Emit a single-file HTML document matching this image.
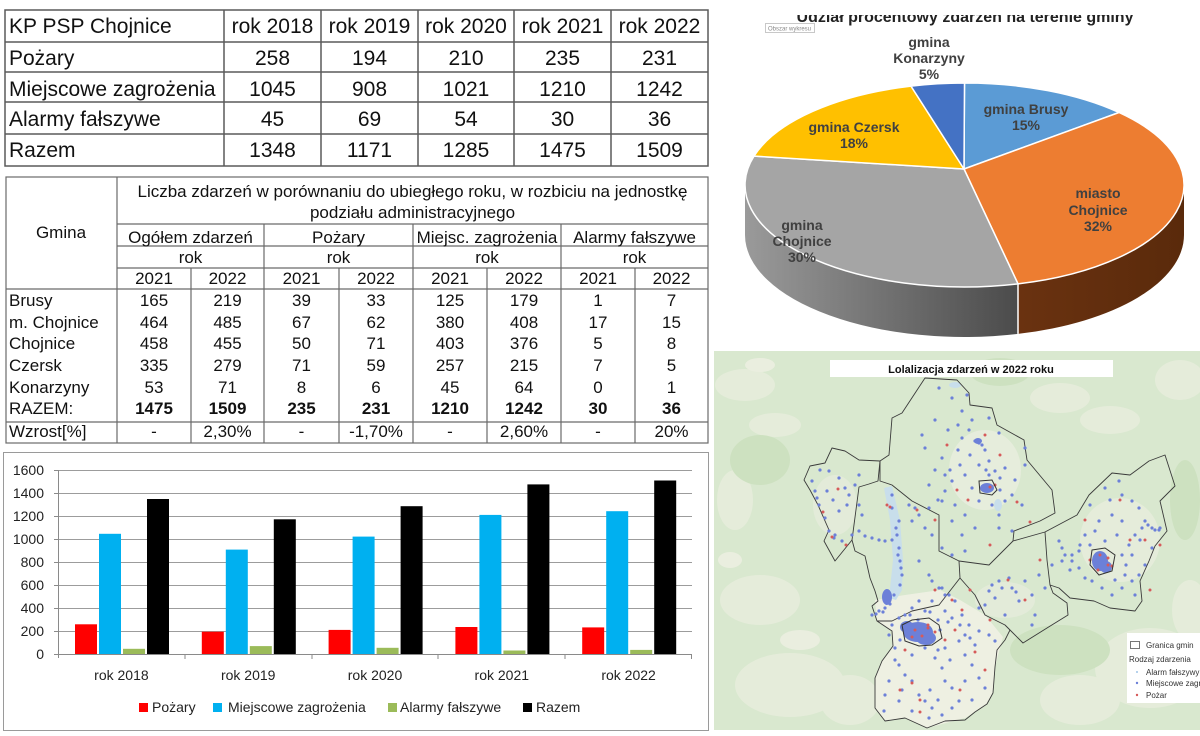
<!DOCTYPE html>
<html><head><meta charset="utf-8"><style>
html,body{margin:0;padding:0;background:#fff;}
svg{display:block;}
text{font-family:"Liberation Sans",Arial,sans-serif;}
</style></head><body>
<svg width="1200" height="736" viewBox="0 0 1200 736" xmlns="http://www.w3.org/2000/svg">
<defs>
<linearGradient id="gside" x1="745" y1="0" x2="1018" y2="0" gradientUnits="userSpaceOnUse">
<stop offset="0" stop-color="#9a9a9a"/><stop offset="1" stop-color="#4b4b4b"/></linearGradient>
<linearGradient id="bside" x1="1018" y1="0" x2="1184" y2="0" gradientUnits="userSpaceOnUse">
<stop offset="0" stop-color="#6a3210"/><stop offset="1" stop-color="#5a2a0b"/></linearGradient>
<clipPath id="mapclip"><rect x="714" y="351" width="486" height="379"/></clipPath>
</defs>
<rect width="1200" height="736" fill="#fff"/>

<!-- TABLE 1 -->
<g stroke="#5a5a5a" stroke-width="1.5" fill="none">
<rect x="5" y="10" width="703" height="156"/>
<line x1="5" y1="42" x2="708" y2="42"/><line x1="5" y1="72" x2="708" y2="72"/>
<line x1="5" y1="102" x2="708" y2="102"/><line x1="5" y1="134" x2="708" y2="134"/>
<line x1="224" y1="10" x2="224" y2="166"/><line x1="321" y1="10" x2="321" y2="166"/>
<line x1="418" y1="10" x2="418" y2="166"/><line x1="514" y1="10" x2="514" y2="166"/>
<line x1="611" y1="10" x2="611" y2="166"/>
</g>
<g font-size="21" fill="#111">
<text x="9" y="33">KP PSP Chojnice</text>
<text x="9" y="65">Pożary</text>
<text x="9" y="96">Miejscowe zagrożenia</text>
<text x="9" y="126">Alarmy fałszywe</text>
<text x="9" y="157">Razem</text>
<g text-anchor="middle">
<text x="272.5" y="33">rok 2018</text><text x="369.5" y="33">rok 2019</text><text x="466" y="33">rok 2020</text><text x="562.5" y="33">rok 2021</text><text x="659.5" y="33">rok 2022</text>
<text x="272.5" y="65">258</text><text x="369.5" y="65">194</text><text x="466" y="65">210</text><text x="562.5" y="65">235</text><text x="659.5" y="65">231</text>
<text x="272.5" y="96">1045</text><text x="369.5" y="96">908</text><text x="466" y="96">1021</text><text x="562.5" y="96">1210</text><text x="659.5" y="96">1242</text>
<text x="272.5" y="126">45</text><text x="369.5" y="126">69</text><text x="466" y="126">54</text><text x="562.5" y="126">30</text><text x="659.5" y="126">36</text>
<text x="272.5" y="157">1348</text><text x="369.5" y="157">1171</text><text x="466" y="157">1285</text><text x="562.5" y="157">1475</text><text x="659.5" y="157">1509</text>
</g></g>

<!-- TABLE 2 -->
<g stroke="#6a6a6a" stroke-width="1.2" fill="none">
<rect x="6" y="177" width="702" height="266"/>
<line x1="117" y1="177" x2="117" y2="443"/>
<line x1="117" y1="224" x2="708" y2="224"/>
<line x1="117" y1="246" x2="708" y2="246"/>
<line x1="117" y1="268" x2="708" y2="268"/>
<line x1="6" y1="289" x2="708" y2="289"/>
<line x1="6" y1="422" x2="708" y2="422"/>
<line x1="264" y1="224" x2="264" y2="443"/><line x1="413" y1="224" x2="413" y2="443"/><line x1="561" y1="224" x2="561" y2="443"/>
<line x1="191" y1="268" x2="191" y2="443"/><line x1="339" y1="268" x2="339" y2="443"/><line x1="487" y1="268" x2="487" y2="443"/><line x1="635" y1="268" x2="635" y2="443"/>
</g>
<g font-size="17" fill="#111">
<g text-anchor="middle">
<text x="412.5" y="197">Liczba zdarzeń w porównaniu do ubiegłego roku, w rozbiciu na jednostkę</text>
<text x="412.5" y="218">podziału administracyjnego</text>
<text x="61" y="238">Gmina</text>
<text x="190.5" y="243">Ogółem zdarzeń</text><text x="338.5" y="243">Pożary</text><text x="487" y="243">Miejsc. zagrożenia</text><text x="634.5" y="243">Alarmy fałszywe</text>
<text x="190.5" y="263">rok</text><text x="338.5" y="263">rok</text><text x="487" y="263">rok</text><text x="634.5" y="263">rok</text>
<text x="154" y="284">2021</text><text x="227.5" y="284">2022</text><text x="301.5" y="284">2021</text><text x="376" y="284">2022</text><text x="450" y="284">2021</text><text x="524" y="284">2022</text><text x="598" y="284">2021</text><text x="671.5" y="284">2022</text>
<text x="154" y="306">165</text><text x="227.5" y="306">219</text><text x="301.5" y="306">39</text><text x="376" y="306">33</text><text x="450" y="306">125</text><text x="524" y="306">179</text><text x="598" y="306">1</text><text x="671.5" y="306">7</text>
<text x="154" y="328">464</text><text x="227.5" y="328">485</text><text x="301.5" y="328">67</text><text x="376" y="328">62</text><text x="450" y="328">380</text><text x="524" y="328">408</text><text x="598" y="328">17</text><text x="671.5" y="328">15</text>
<text x="154" y="349">458</text><text x="227.5" y="349">455</text><text x="301.5" y="349">50</text><text x="376" y="349">71</text><text x="450" y="349">403</text><text x="524" y="349">376</text><text x="598" y="349">5</text><text x="671.5" y="349">8</text>
<text x="154" y="371">335</text><text x="227.5" y="371">279</text><text x="301.5" y="371">71</text><text x="376" y="371">59</text><text x="450" y="371">257</text><text x="524" y="371">215</text><text x="598" y="371">7</text><text x="671.5" y="371">5</text>
<text x="154" y="393">53</text><text x="227.5" y="393">71</text><text x="301.5" y="393">8</text><text x="376" y="393">6</text><text x="450" y="393">45</text><text x="524" y="393">64</text><text x="598" y="393">0</text><text x="671.5" y="393">1</text>
<g font-weight="bold">
<text x="154" y="414">1475</text><text x="227.5" y="414">1509</text><text x="301.5" y="414">235</text><text x="376" y="414">231</text><text x="450" y="414">1210</text><text x="524" y="414">1242</text><text x="598" y="414">30</text><text x="671.5" y="414">36</text>
</g>
<text x="154" y="437">-</text><text x="227.5" y="437">2,30%</text><text x="301.5" y="437">-</text><text x="376" y="437">-1,70%</text><text x="450" y="437">-</text><text x="524" y="437">2,60%</text><text x="598" y="437">-</text><text x="671.5" y="437">20%</text>
</g>
<text x="9" y="306">Brusy</text>
<text x="9" y="328">m. Chojnice</text>
<text x="9" y="349">Chojnice</text>
<text x="9" y="371">Czersk</text>
<text x="9" y="393">Konarzyny</text>
<text x="9" y="414">RAZEM:</text>
<text x="9" y="437">Wzrost[%]</text>
</g>

<!-- BAR CHART -->
<rect x="3.5" y="452.5" width="705" height="278" fill="#fff" stroke="#9a9a9a" stroke-width="1"/>
<g stroke="#9c9c9c" stroke-width="1">
<line x1="58" y1="470.5" x2="692" y2="470.5"/><line x1="58" y1="493.5" x2="692" y2="493.5"/>
<line x1="58" y1="516.5" x2="692" y2="516.5"/><line x1="58" y1="539.5" x2="692" y2="539.5"/>
<line x1="58" y1="562.5" x2="692" y2="562.5"/><line x1="58" y1="585.5" x2="692" y2="585.5"/>
<line x1="58" y1="608.5" x2="692" y2="608.5"/><line x1="58" y1="631.5" x2="692" y2="631.5"/>
</g>
<g>
<rect x="75" y="624.3" width="22" height="29.7" fill="#ff0000"/><rect x="99" y="533.8" width="22" height="120.2" fill="#00b0f0"/><rect x="123" y="648.8" width="22" height="5.2" fill="#9bbb59"/><rect x="147" y="499" width="22" height="155" fill="#000"/>
<rect x="201.8" y="631.7" width="22" height="22.3" fill="#ff0000"/><rect x="225.8" y="549.6" width="22" height="104.4" fill="#00b0f0"/><rect x="249.8" y="646.1" width="22" height="7.9" fill="#9bbb59"/><rect x="273.8" y="519.3" width="22" height="134.7" fill="#000"/>
<rect x="328.6" y="629.9" width="22" height="24.1" fill="#ff0000"/><rect x="352.6" y="536.6" width="22" height="117.4" fill="#00b0f0"/><rect x="376.6" y="647.8" width="22" height="6.2" fill="#9bbb59"/><rect x="400.6" y="506.2" width="22" height="147.8" fill="#000"/>
<rect x="455.4" y="627" width="22" height="27" fill="#ff0000"/><rect x="479.4" y="514.9" width="22" height="139.1" fill="#00b0f0"/><rect x="503.4" y="650.5" width="22" height="3.5" fill="#9bbb59"/><rect x="527.4" y="484.4" width="22" height="169.6" fill="#000"/>
<rect x="582.2" y="627.4" width="22" height="26.6" fill="#ff0000"/><rect x="606.2" y="511.2" width="22" height="142.8" fill="#00b0f0"/><rect x="630.2" y="649.9" width="22" height="4.1" fill="#9bbb59"/><rect x="654.2" y="480.5" width="22" height="173.5" fill="#000"/>
</g>
<g stroke="#8a8a8a" stroke-width="1">
<line x1="58" y1="654.5" x2="692" y2="654.5"/>
<line x1="58.5" y1="470" x2="58.5" y2="658"/>
<line x1="185" y1="654" x2="185" y2="659"/><line x1="312" y1="654" x2="312" y2="659"/><line x1="438" y1="654" x2="438" y2="659"/><line x1="565" y1="654" x2="565" y2="659"/><line x1="691.5" y1="654" x2="691.5" y2="659"/>
<line x1="54" y1="470.5" x2="58" y2="470.5"/><line x1="54" y1="493.5" x2="58" y2="493.5"/><line x1="54" y1="516.5" x2="58" y2="516.5"/><line x1="54" y1="539.5" x2="58" y2="539.5"/><line x1="54" y1="562.5" x2="58" y2="562.5"/><line x1="54" y1="585.5" x2="58" y2="585.5"/><line x1="54" y1="608.5" x2="58" y2="608.5"/><line x1="54" y1="631.5" x2="58" y2="631.5"/><line x1="54" y1="654.5" x2="58" y2="654.5"/>
</g>
<g font-size="14" fill="#222" text-anchor="end">
<text x="44" y="475">1600</text><text x="44" y="498">1400</text><text x="44" y="521">1200</text><text x="44" y="544">1000</text><text x="44" y="567">800</text><text x="44" y="590">600</text><text x="44" y="613">400</text><text x="44" y="636">200</text><text x="44" y="659">0</text>
</g>
<g font-size="14" fill="#222" text-anchor="middle">
<text x="121.4" y="680">rok 2018</text><text x="248.2" y="680">rok 2019</text><text x="375" y="680">rok 2020</text><text x="501.8" y="680">rok 2021</text><text x="628.6" y="680">rok 2022</text>
</g>
<g font-size="14" fill="#222">
<rect x="139" y="703" width="9" height="9" fill="#ff0000"/><text x="152" y="712">Pożary</text>
<rect x="213" y="703" width="9" height="9" fill="#00b0f0"/><text x="228" y="712">Miejscowe zagrożenia</text>
<rect x="388" y="703" width="9" height="9" fill="#9bbb59"/><text x="400" y="712">Alarmy fałszywe</text>
<rect x="523" y="703" width="9" height="9" fill="#000"/><text x="536" y="712">Razem</text>
</g>

<!-- PIE CHART -->
<text x="965" y="22" font-size="16" font-weight="bold" fill="#222" text-anchor="middle">Udział procentowy zdarzeń na terenie gminy</text>
<rect x="712" y="0" width="488" height="15" fill="#fff"/>
<rect x="765.5" y="23.5" width="49" height="9" fill="#fff" stroke="#bbb" stroke-width="0.8"/>
<text x="768" y="30.5" font-size="6" fill="#888">Obszar wykresu</text>

<path d="M1184,185 A219.5,102 0 0 1 1018,283.9 L1018,333.9 A219.5,102 0 0 0 1184,235 Z" fill="url(#bside)"/>
<path d="M1018,283.9 A219.5,102 0 0 1 745,185 L745,235 A219.5,102 0 0 0 1018,333.9 Z" fill="url(#gside)"/>
<line x1="1018" y1="283.9" x2="1018" y2="333.9" stroke="#fff" stroke-width="1.5"/>
<g stroke="#fff" stroke-width="1.5" stroke-linejoin="round">
<path d="M964,169 L964.5,83 A219.5,102 0 0 1 1119,112.5 Z" fill="#5b9bd5"/>
<path d="M964,169 L1119,112.5 A219.5,102 0 0 1 1018,283.9 Z" fill="#ed7d31"/>
<path d="M964,169 L1018,283.9 A219.5,102 0 0 1 754,156.1 Z" fill="#a5a5a5"/>
<path d="M964,169 L754,156.1 A219.5,102 0 0 1 911,86.1 Z" fill="#ffc000"/>
<path d="M964,169 L911,86.1 A219.5,102 0 0 1 964.5,83 Z" fill="#4472c4"/>
</g>
<g font-size="14" font-weight="bold" fill="#404040" text-anchor="middle">
<text x="929" y="47">gmina</text><text x="929" y="63">Konarzyny</text><text x="929" y="79">5%</text>
<text x="1026" y="114">gmina Brusy</text><text x="1026" y="130">15%</text>
<text x="854" y="132">gmina Czersk</text><text x="854" y="148">18%</text>
<text x="1098" y="198">miasto</text><text x="1098" y="215">Chojnice</text><text x="1098" y="231">32%</text>
<text x="802" y="230">gmina</text><text x="802" y="246">Chojnice</text><text x="802" y="262">30%</text>
</g>

<!-- MAP -->
<g clip-path="url(#mapclip)">
<rect x="714" y="351" width="486" height="379" fill="#d9e8cf"/>
<g fill="#e5ecda">
<ellipse cx="745" cy="385" rx="30" ry="16"/><ellipse cx="775" cy="425" rx="26" ry="12"/>
<ellipse cx="760" cy="600" rx="40" ry="25"/><ellipse cx="790" cy="685" rx="55" ry="32"/>
<ellipse cx="850" cy="700" rx="30" ry="25"/><ellipse cx="1180" cy="380" rx="25" ry="20"/>
<ellipse cx="1060" cy="398" rx="30" ry="15"/><ellipse cx="1150" cy="668" rx="55" ry="40"/>
<ellipse cx="1080" cy="700" rx="40" ry="25"/><ellipse cx="1190" cy="610" rx="18" ry="30"/>
<ellipse cx="735" cy="500" rx="18" ry="30"/><ellipse cx="1110" cy="420" rx="30" ry="14"/>
</g>
<g fill="#eaeedf">
<ellipse cx="730" cy="560" rx="12" ry="8"/><ellipse cx="800" cy="640" rx="20" ry="10"/>
<ellipse cx="1170" cy="690" rx="20" ry="12"/><ellipse cx="760" cy="365" rx="15" ry="7"/>
</g>
<g fill="#cde1c0">
<ellipse cx="760" cy="460" rx="30" ry="25"/><ellipse cx="1060" cy="650" rx="50" ry="25"/>
<ellipse cx="1185" cy="500" rx="15" ry="40"/><ellipse cx="1000" cy="372" rx="30" ry="14"/>
</g>
<polygon points="875,600 905,595 940,590 960,600 985,615 1003,637 995,667 993,693 985,706 965,718 927,728 905,718 885,721 875,708 875,678 882,661 893,646 892,631 877,621" fill="#eef0e2"/>
<ellipse cx="985" cy="470" rx="36" ry="40" fill="#e6eddc"/>
<ellipse cx="1120" cy="540" rx="40" ry="42" fill="#e5ecda"/>
<ellipse cx="1005" cy="600" rx="30" ry="18" fill="#e3ebd9"/>
<ellipse cx="835" cy="505" rx="22" ry="30" fill="#e3ebd9"/>
<path d="M884,488 L892,486 L900,520 L903,560 L902,590 L896,600 L889,598 L893,560 L890,520 Z" fill="#c8deeb"/>
<ellipse cx="955" cy="385" rx="6" ry="3" fill="#c8deeb"/>
<ellipse cx="998" cy="505" rx="4" ry="6" fill="#c8deeb"/>

<g fill="none" stroke="#3a3a3a" stroke-width="0.9" stroke-linejoin="round">
<polygon points="925,378 957,380 969,393 970,405 992,408 997,425 1024,440 1027,460 1052,490 1055,513 1040,521 1014,531 1013,541 1045,532 1077,515 1089,495 1112,473 1130,475 1149,461 1165,455 1175,486 1160,501 1167,531 1155,546 1149,561 1140,581 1142,601 1135,611 1110,608 1094,601 1070,598 1059,588 1050,585 1053,593 1067,603 1068,615 1047,628 1023,643 1010,630 1005,640 997,650 995,667 993,693 987,704 975,712 965,720 945,721 927,728 905,718 885,721 875,708 875,678 882,661 893,646 892,631 877,621 872,606 878,601 875,591 870,578 865,556 855,551 852,540 835,561 824,541 829,530 818,505 810,490 804,480 810,466 825,463 832,448 845,451 859,460 880,461 889,455 892,418 902,413"/>
<polyline points="880,461 878,481 869,484 859,487 852,540"/>
<polyline points="880,461 880,481 892,485 912,501 939,515 939,551 959,561 989,565 1013,541"/>
<polyline points="877,621 892,621 912,611 939,605 960,578 959,561"/>
<polyline points="960,578 975,595 985,615 1005,625 1010,630"/>
<polyline points="1045,532 1047,560 1050,585"/>
</g>
<path stroke="#6c80d8" stroke-width="3.2" stroke-linecap="round" fill="none" d="M939 388h0M952 398h0M967 395h0M962 411h0M969 430h0M989 418h0M999 433h0M975 441h0M979 443h0M982 445h0M962 438h0M922 435h0M925 448h0M942 458h0M945 475h0M952 481h0M965 475h0M960 465h0M979 465h0M989 461h0M995 471h0M1005 468h0M989 475h0M972 488h0M945 491h0M929 485h0M942 501h0M955 505h0M965 515h0M979 501h0M992 505h0M1005 501h0M1012 495h0M1022 505h0M999 515h0M999 528h0M1012 531h0M975 528h0M962 535h0M965 551h0M952 521h0M929 508h0M919 515h0M1025 448h0M1025 465h0M935 420h0M948 430h0M958 450h0M970 455h0M985 450h0M1015 480h0M1000 490h0M935 470h0M812 481h0M815 491h0M819 505h0M829 471h0M839 478h0M845 488h0M849 495h0M847 505h0M839 511h0M825 518h0M829 531h0M835 535h0M834 538h0M842 541h0M852 535h0M859 531h0M865 536h0M872 538h0M879 540h0M885 541h0M892 540h0M862 515h0M859 505h0M855 485h0M859 475h0M827 491h0M820 470h0M817 498h0M833 500h0M892 495h0M892 508h0M899 521h0M897 535h0M899 548h0M900 561h0M902 575h0M900 585h0M894 595h0M889 601h0M912 521h0M915 508h0M932 535h0M942 548h0M952 555h0M919 561h0M929 575h0M939 588h0M945 595h0M879 611h0M885 608h0M872 615h0M909 505h0M925 528h0M885 541h0M896 528h0M898 555h0M901 568h0M890 604h0M883 612h0M876 614h0M999 581h0M1009 578h0M1012 588h0M1002 588h0M995 598h0M985 605h0M1005 615h0M1019 601h0M1032 595h0M1045 588h0M1025 581h0M1039 575h0M1052 565h0M1062 561h0M1072 555h0M1079 551h0M989 591h0M979 608h0M1032 625h0M1035 615h0M992 585h0M1016 592h0M932 581h0M942 588h0M949 595h0M955 601h0M962 615h0M969 625h0M979 631h0M989 635h0M995 641h0M945 611h0M952 618h0M932 601h0M925 611h0M919 601h0M912 608h0M905 615h0M899 618h0M892 625h0M889 635h0M895 648h0M899 665h0M905 675h0M912 681h0M919 695h0M925 701h0M932 708h0M945 681h0M952 688h0M942 668h0M935 658h0M945 648h0M959 641h0M965 655h0M972 665h0M979 678h0M985 688h0M965 681h0M959 701h0M952 708h0M942 715h0M929 718h0M912 711h0M899 701h0M889 681h0M885 695h0M884 711h0M912 655h0M925 648h0M919 638h0M965 635h0M940 630h0M948 622h0M905 630h0M900 640h0M938 650h0M950 660h0M975 645h0M1105 488h0M1119 481h0M1122 495h0M1132 501h0M1139 508h0M1145 521h0M1152 528h0M1159 530h0M1142 528h0M1135 535h0M1129 545h0M1122 555h0M1125 575h0M1132 581h0M1122 588h0M1112 595h0M1102 588h0M1092 581h0M1085 578h0M1079 568h0M1072 561h0M1065 555h0M1062 548h0M1059 541h0M1095 531h0M1099 521h0M1112 515h0M1122 521h0M1117 535h0M1105 541h0M1085 535h0M1132 555h0M1139 575h0M1145 565h0M1135 595h0M1152 548h0M1155 530h0M1148 525h0M1160 528h0M1090 505h0M1110 500h0M958 425h0M972 420h0M986 470h0M1000 478h0M950 470h0M938 500h0M910 615h0M918 620h0M930 612h0M938 620h0M960 625h0M970 638h0M895 660h0M902 690h0M930 690h0M938 700h0M972 700h0M1070 570h0M1080 545h0M1090 545h0M1115 580h0M1126 565h0M1140 540h0"/>
<g fill="#6c80d8">
<ellipse cx="918" cy="632" rx="15" ry="10"/><ellipse cx="926" cy="638" rx="10" ry="7"/><ellipse cx="907" cy="627" rx="7" ry="6"/>
<ellipse cx="1100" cy="561" rx="8" ry="10"/><ellipse cx="1106" cy="567" rx="6" ry="6"/>
<ellipse cx="987" cy="488" rx="7" ry="5"/><ellipse cx="978" cy="441" rx="4" ry="3"/>
<ellipse cx="887" cy="597" rx="5" ry="8"/>
</g>
<path stroke="#d65a5a" stroke-width="3" stroke-linecap="round" fill="none" d="M947 445h0M985 435h0M1000 455h0M957 490h0M1017 502h0M968 500h0M995 485h0M1030 522h0M990 545h0M838 489h0M823 512h0M832 537h0M846 545h0M887 505h0M890 507h0M917 510h0M935 520h0M1008 580h0M1040 560h0M1025 600h0M970 590h0M935 590h0M952 600h0M962 610h0M945 640h0M975 652h0M985 670h0M912 683h0M920 700h0M905 650h0M928 625h0M935 632h0M960 690h0M900 690h0M1090 560h0M1100 555h0M1108 565h0M1120 500h0M1130 540h0M1145 540h0M1160 545h0M1085 520h0M1150 590h0M920 712h0M955 630h0M990 620h0M915 630h0M922 636h0M928 628h0M912 637h0M1108 558h0M1112 566h0M1098 570h0M990 487h0"/>
<g fill="none" stroke="#333" stroke-width="1">
<polygon points="902,625 912,620 929,618 939,625 942,638 932,645 919,646 905,641"/>
<polygon points="979,481 992,480 997,490 992,495 980,493"/>
<polygon points="1092,550 1105,548 1115,555 1112,571 1099,575 1090,565"/>
</g>
<rect x="830" y="360" width="283" height="17" fill="#fff"/>
<text x="971" y="373" font-size="11" font-weight="bold" fill="#111" text-anchor="middle">Lolalizacja zdarzeń w 2022 roku</text>
<rect x="1127" y="633" width="73" height="70" fill="#fff"/>
<rect x="1130.5" y="641.5" width="9" height="7" fill="#fff" stroke="#555" stroke-width="0.8"/>
<g font-size="8" fill="#333">
<text x="1146" y="648">Granica gmin</text>
<text x="1129" y="662">Rodzaj zdarzenia</text>
<text x="1146" y="675">Alarm fałszywy</text>
<text x="1146" y="686">Miejscowe zagrożenia</text>
<text x="1146" y="698">Pożar</text>
</g>
<circle cx="1137" cy="672" r="1" fill="#9fc5e8"/>
<circle cx="1137" cy="683" r="1.2" fill="#6c80d8"/>
<circle cx="1137" cy="695" r="1.2" fill="#d65a5a"/>
</g>
</svg>
</body></html>
